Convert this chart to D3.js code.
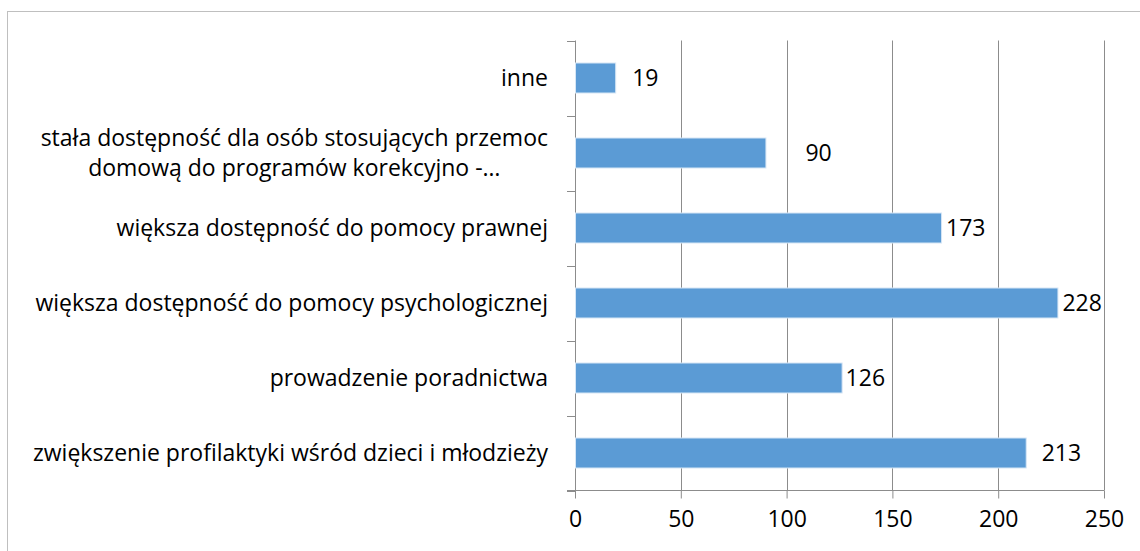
<!DOCTYPE html>
<html>
<head>
<meta charset="utf-8">
<script src="https://cdn.jsdelivr.net/npm/d3@7"></script>
<style>
  body { margin: 0; background: white; }
  text { font-family: "Open Sans", sans-serif; fill: #000; }
</style>
</head>
<body>
<div id="chart"></div>
<script>
var svgWidth = 1140;
var svgHeight = 551;

// data, top to bottom as in the picture
var categories = [
	["inne"],
	["stała dostępność dla osób stosujących przemoc", "domową do programów korekcyjno -…"],
	["większa dostępność do pomocy prawnej"],
	["większa dostępność do pomocy psychologicznej"],
	["prowadzenie poradnictwa"],
	["zwiększenie profilaktyki wśród dzieci i młodzieży"]
]
var values = [19, 90, 173, 228, 126, 213]
var xTicks = [0, 50, 100, 150, 200, 250]
// the value labels were nudged by hand in the original
var labelGap = [17, 40, 5, 5, 4, 16]

var plotLeft = 575, plotRight = 1104, plotTop = 40.5, plotBottom = 490.5
var fontSize = 23

var svg = d3.select('#chart')
	.append('svg')
	.attr('width', svgWidth)
	.attr('height', svgHeight)

// outer frame
svg.append('rect')
	.attr('x', 7.5)
	.attr('y', 11.5)
	.attr('width', svgWidth)
	.attr('height', svgHeight)
	.attr('fill', 'none')
	.attr('stroke', '#bfbfbf')
	.attr('stroke-width', 1)

var x = d3.scaleLinear()
	.domain([0, 250])
	.range([plotLeft, plotRight])

var y = d3.scaleBand()
	.domain(d3.range(values.length))
	.range([plotTop, plotBottom])
	.paddingInner(0.6)
	.paddingOuter(0.3)

// vertical gridlines
svg.append('g')
	.selectAll('line')
	.data(xTicks.slice(1))
	.enter()
	.append('line')
	.attr('x1', function(d){return Math.round(x(d)) + 0.5})
	.attr('x2', function(d){return Math.round(x(d)) + 0.5})
	.attr('y1', plotTop)
	.attr('y2', plotBottom)
	.attr('stroke', '#8c8c8c')
	.attr('stroke-width', 1)

// x axis
var xAxis = svg.append('g')
	.attr('transform', 'translate(0,' + plotBottom + ')')
	.call(d3.axisBottom(x).tickValues(xTicks).tickSize(8).tickPadding(12).tickSizeOuter(0))
xAxis.select('.domain').attr('stroke', '#8c8c8c').attr('d', 'M' + (plotLeft - 8) + ',0H' + plotRight)
xAxis.selectAll('.tick line').attr('stroke', '#8c8c8c')
xAxis.selectAll('.tick text')
	.style('font-size', fontSize + 'px')
	.style('font-family', '"Open Sans", sans-serif')

// y axis line with ticks between the bands
var bandStep = (plotBottom - plotTop) / values.length
var yTicks = d3.range(values.length + 1).map(function(i){return plotTop + i * bandStep})
var yAxis = svg.append('g')
yAxis.append('line')
	.attr('x1', plotLeft + 0.5)
	.attr('x2', plotLeft + 0.5)
	.attr('y1', plotTop)
	.attr('y2', plotBottom)
	.attr('stroke', '#8c8c8c')
yAxis.selectAll('line.tick')
	.data(yTicks)
	.enter()
	.append('line')
	.attr('class', 'tick')
	.attr('x1', plotLeft - 8)
	.attr('x2', plotLeft)
	.attr('y1', function(d){return Math.round(d) + 0.5})
	.attr('y2', function(d){return Math.round(d) + 0.5})
	.attr('stroke', '#8c8c8c')

// bars
svg.append('g')
	.selectAll('rect')
	.data(values)
	.enter()
	.append('rect')
	.attr('x', x(0) + 0.5)
	.attr('y', function(d, i){return y(i)})
	.attr('width', function(d){return x(d) - x(0)})
	.attr('height', y.bandwidth())
	.attr('fill', '#5b9bd5')
	.attr('stroke', '#d6e6f5')
	.attr('stroke-width', 1)

// value labels
svg.append('g')
	.selectAll('text')
	.data(values)
	.enter()
	.append('text')
	.attr('x', function(d, i){return x(d) + labelGap[i]})
	.attr('y', function(d, i){return y(i) + y.bandwidth() / 2})
	.attr('dy', '0.35em')
	.style('font-size', fontSize + 'px')
	.text(function(d){return d})

// category labels, wrapped ones are centred on their own block
var labelRight = 548
var lineHeight = 30
var catGroups = svg.append('g')
	.selectAll('g')
	.data(categories)
	.enter()
	.append('g')

catGroups.each(function(lines, i) {
	var g = d3.select(this)
	var cy = y(i) + y.bandwidth() / 2
	var texts = g.selectAll('text')
		.data(lines)
		.enter()
		.append('text')
		.attr('y', function(d, j){return cy + (j - (lines.length - 1) / 2) * lineHeight})
		.attr('dy', '0.35em')
		.style('font-size', fontSize + 'px')
		.text(function(d){return d})
	var widths = []
	texts.each(function(){widths.push(this.getComputedTextLength())})
	var blockWidth = d3.max(widths)
	var center = labelRight - blockWidth / 2
	texts.attr('x', center).attr('text-anchor', 'middle')
})
</script>
</body>
</html>
